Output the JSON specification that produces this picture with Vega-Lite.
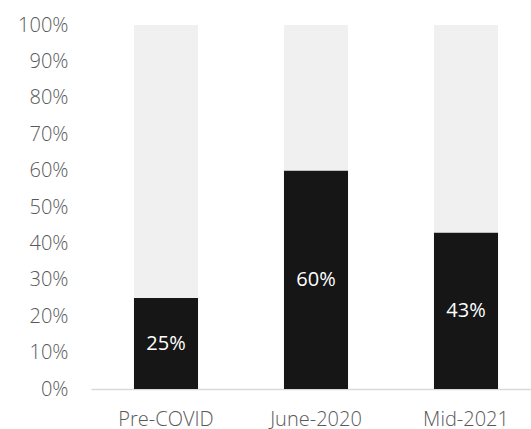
{
  "$schema": "https://vega.github.io/schema/vega-lite/v6.json",
  "autosize": "none",
  "padding": {"left": 91, "top": 25, "right": 0, "bottom": 60},
  "width": 450,
  "height": 364,
  "background": "white",
  "data": {"values": [
    {"period": "Pre-COVID", "part": "a", "value": 0.25},
    {"period": "Pre-COVID", "part": "b", "value": 0.75},
    {"period": "June-2020", "part": "a", "value": 0.60},
    {"period": "June-2020", "part": "b", "value": 0.40},
    {"period": "Mid-2021", "part": "a", "value": 0.43},
    {"period": "Mid-2021", "part": "b", "value": 0.57}
  ]},
  "encoding": {
    "x": {"field": "period", "type": "nominal", "sort": ["Pre-COVID", "June-2020", "Mid-2021"],
      "scale": {"paddingInner": 0.573, "paddingOuter": 0.2865},
      "axis": {"title": null, "labelAngle": 0, "labelPadding": 20, "domainColor": "#d9d9d9", "domainWidth": 1.5, "ticks": false}}
  },
  "layer": [
    {
      "mark": {"type": "bar"},
      "encoding": {
        "y": {"field": "value", "type": "quantitative", "stack": "zero",
          "scale": {"domain": [0, 1], "nice": false},
          "axis": {"title": null, "format": ".0%", "values": [0,0.1,0.2,0.3,0.4,0.5,0.6,0.7,0.8,0.9,1], "tickCount": 11, "grid": false, "domain": false, "ticks": false, "labelPadding": 23, "labelOverlap": false,
            "encode": {"labels": {"update": {"opacity": {"value": 1}}}}}},
        "color": {"field": "part", "type": "nominal", "scale": {"domain": ["a", "b"], "range": ["#161616", "#f0f0f0"]}, "legend": null},
        "order": {"field": "part", "type": "nominal"}
      }
    },
    {
      "transform": [{"filter": "datum.part === 'a'"}, {"calculate": "datum.value", "as": "label"}, {"calculate": "datum.label / 2", "as": "value"}],
      "mark": {"type": "text", "color": "white", "font": "Open Sans", "fontSize": 20, "baseline": "middle"},
      "encoding": {
        "y": {"field": "value", "type": "quantitative", "stack": null},
        "text": {"field": "label", "type": "quantitative", "format": ".0%"}
      }
    }
  ],
  "config": {
    "view": {"stroke": null},
    "axis": {"labelFont": "Open Sans", "labelFontWeight": 300, "labelFontSize": 20, "labelColor": "#595959", "labelOverlap": false}
  }
}
